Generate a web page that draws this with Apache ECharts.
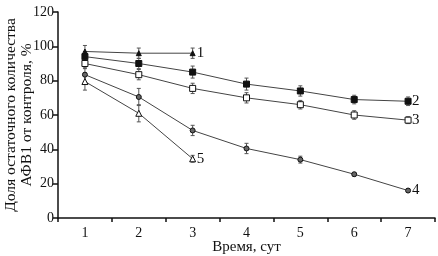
<!DOCTYPE html>
<html>
<head>
<meta charset="utf-8">
<script src="https://cdn.jsdelivr.net/npm/echarts@6/dist/echarts.min.js"></script>
<style>
  html, body { margin: 0; padding: 0; background: #fff; }
  #chart { width: 438px; height: 256px; }
</style>
</head>
<body>
<div id="chart"></div>
<script>
const days = ['1', '2', '3', '4', '5', '6', '7'];

// mean values, % of control
const s1 = [97, 96, 96];
const s2 = [94, 90, 85, 78, 74, 69, 68];
const s3 = [90, 83.5, 75.5, 70, 66, 60, 57];
const s4 = [83.5, 70.5, 51, 40.5, 34, 25.5, 16];
const s5 = [79.5, 61, 34.5];

// error bar half-widths
const e1 = [3.5, 3, 3];
const e2 = [3, 3, 3.5, 3.5, 3, 2.5, 2.5];
const e3 = [3, 3, 3, 3, 2.5, 2.5, 2];
const e4 = [4, 5, 3, 3, 2, 1, 1];
const e5 = [5, 5, 2];

const font = 'Liberation Serif';
const lineColor = '#444';

function errBars(vals, errs) {
  return {
    type: 'custom',
    silent: true,
    z: 1,
    data: vals.map((v, i) => [i, v - errs[i], v + errs[i]]),
    renderItem(params, api) {
      const lo = api.coord([api.value(0), api.value(1)]);
      const hi = api.coord([api.value(0), api.value(2)]);
      const w = 2;
      const st = { stroke: '#555', lineWidth: 1 };
      return {
        type: 'group',
        children: [
          { type: 'line', shape: { x1: lo[0], y1: lo[1], x2: hi[0], y2: hi[1] }, style: st },
          { type: 'line', shape: { x1: lo[0] - w, y1: lo[1], x2: lo[0] + w, y2: lo[1] }, style: st },
          { type: 'line', shape: { x1: hi[0] - w, y1: hi[1], x2: hi[0] + w, y2: hi[1] }, style: st },
        ],
      };
    },
  };
}

function lineSeries(name, vals, symbol, fill, size) {
  return {
    name,
    type: 'line',
    data: vals,
    z: 3,
    symbol,
    symbolSize: size,
    showAllSymbol: true,
    lineStyle: { color: lineColor, width: 1 },
    itemStyle: { color: fill, borderColor: '#111', borderWidth: 1 },
    endLabel: {
      show: true,
      formatter: name,
      fontFamily: font,
      fontSize: 15,
      color: '#111',
      distance: 4,
    },
  };
}

const chart = echarts.init(document.getElementById('chart'));
chart.setOption({
  animation: false,
  textStyle: { fontFamily: font },
  grid: { left: 58, right: 3, top: 12, bottom: 38, outerBoundsMode: 'none', containLabel: false },
  xAxis: {
    type: 'category',
    data: days,
    boundaryGap: true,
    name: 'Время, сут',
    nameLocation: 'middle',
    nameGap: 22,
    nameMoveOverlap: false,
    nameTextStyle: { fontFamily: font, fontSize: 15, color: '#111' },
    axisLine: { lineStyle: { color: '#111', width: 1.5 } },
    axisTick: { show: true, length: 4, lineStyle: { color: '#111', width: 1.5 } },
    axisLabel: { fontFamily: font, fontSize: 14, color: '#111', margin: 8 },
    splitLine: { show: false },
  },
  yAxis: {
    type: 'value',
    min: 0,
    max: 120,
    interval: 20,
    name: 'Доля остаточного количества\nАФВ1 от контроля, %',
    nameLocation: 'middle',
    nameRotate: 90,
    nameGap: 23,
    nameMoveOverlap: false,
    nameTextStyle: { fontFamily: font, fontSize: 15.5, color: '#111', lineHeight: 16 },
    axisLine: { show: true, lineStyle: { color: '#111', width: 1.5 } },
    axisTick: { show: true, length: 5, lineStyle: { color: '#111', width: 1.5 } },
    axisLabel: { fontFamily: font, fontSize: 14, color: '#111', margin: 4 },
    splitLine: { show: false },
  },
  series: [
    errBars(s1, e1),
    errBars(s2, e2),
    errBars(s3, e3),
    errBars(s4, e4),
    errBars(s5, e5),
    lineSeries('1', s1, 'triangle', '#111', 5),
    lineSeries('2', s2, 'rect', '#111', 6),
    lineSeries('3', s3, 'rect', '#fff', 6),
    lineSeries('4', s4, 'circle', '#666', 5),
    lineSeries('5', s5, 'triangle', '#fff', 6),
  ],
});
</script>
</body>
</html>
